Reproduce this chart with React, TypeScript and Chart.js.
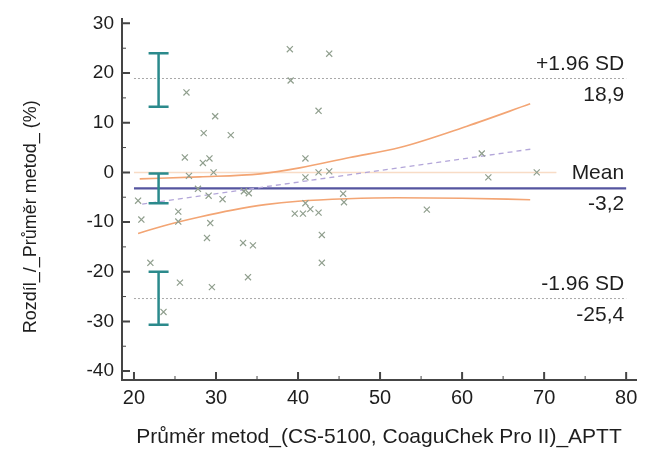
import React, { useEffect, useRef } from "react";
import { Chart, registerables } from "chart.js";

Chart.register(...registerables);

// ---- data ----
const pointX = [39.0, 43.8, 39.1, 26.4, 42.5, 29.9, 28.5, 31.8, 26.2, 29.2, 28.4, 40.9, 62.4, 26.7, 29.7, 40.9, 42.5, 43.8, 63.2, 69.1, 27.8, 29.1, 30.8, 33.4, 34.0, 45.5, 45.6, 40.9, 20.5, 20.9, 25.4, 25.4, 29.3, 39.6, 40.6, 41.5, 42.5, 55.7, 28.9, 33.3, 34.5, 42.9, 22.0, 42.9, 33.9, 25.6, 29.5, 23.6];
const pointY = [24.8, 23.9, 18.5, 16.1, 12.4, 11.3, 7.9, 7.5, 3.0, 2.8, 1.9, 2.8, 3.8, -0.7, 0.0, -1.0, 0.0, 0.2, -1.0, 0.0, -3.3, -4.7, -5.4, -3.8, -4.2, -4.3, -6.0, -6.2, -5.7, -9.5, -7.9, -9.9, -10.2, -8.3, -8.3, -7.4, -8.1, -7.5, -13.2, -14.2, -14.7, -12.6, -18.2, -18.2, -21.1, -22.2, -23.1, -28.1];

const meanDiff = -3.2;
const upperLoA = 18.9;
const lowerLoA = -25.4;
const lineXStart = 20;
const lineXEnd = 80;
const zeroLineX = [20, 71.5];

const regressionX = [21, 68.5];
const regressionY = [-6.4, 4.7];
const upperCurveX = [20.7, 28, 35.4, 40.2, 46.3, 52.4, 60.6, 68.3];
const upperCurveY = [-1.3, -0.9, -0.3, 0.9, 3.0, 5.0, 9.3, 13.8];
const lowerCurveX = [20.5, 24, 28, 32, 36, 40, 46, 52, 60, 68.3];
const lowerCurveY = [-12.3, -10.6, -9.0, -7.6, -6.5, -5.8, -5.3, -5.1, -5.2, -5.5];

const errorBarX = 23;
const ciLow = [13.2, -6.2, -30.7];
const ciHigh = [24.0, -0.2, -20.0];

const xTicks = [20, 30, 40, 50, 60, 70, 80];
const yTicks = [-40, -30, -20, -10, 0, 10, 20, 30];

const xTitle = "Průměr metod_(CS-5100, CoaguChek Pro II)_APTT";
const yTitle = "Rozdíl_/_Průměr metod_ (%)";
const labelsAbove = ["+1.96 SD", "Mean", "-1.96 SD"];
const labelsBelow = ["18,9", "-3,2", "-25,4"];
const labelValues = [upperLoA, meanDiff, lowerLoA];

const FONT = "Arial, 'Liberation Sans', sans-serif";
const AXIS = "#454545";
const TEXT = "#1e1e1e";

const pts = (xs: number[], ys: number[]) => xs.map((x, i) => ({ x, y: ys[i] }));

const overlay = {
  id: "overlay",
  afterDatasetsDraw(chart: any) {
    const { ctx } = chart;
    const xs = chart.scales.x;
    const ys = chart.scales.y;
    ctx.save();
    ctx.strokeStyle = "#2b8a8c";
    ctx.lineWidth = 2.5;
    const px = xs.getPixelForValue(errorBarX);
    ciLow.forEach((lo, i) => {
      const y1 = ys.getPixelForValue(lo);
      const y2 = ys.getPixelForValue(ciHigh[i]);
      ctx.beginPath();
      ctx.moveTo(px, y1);
      ctx.lineTo(px, y2);
      ctx.moveTo(px - 10, y1);
      ctx.lineTo(px + 10, y1);
      ctx.moveTo(px - 10, y2);
      ctx.lineTo(px + 10, y2);
      ctx.stroke();
    });
    ctx.restore();
  },
  afterDraw(chart: any) {
    const { ctx, chartArea } = chart;
    const xs = chart.scales.x;
    const ys = chart.scales.y;
    ctx.save();
    ctx.strokeStyle = AXIS;
    // major ticks (inside)
    ctx.lineWidth = 2;
    ctx.beginPath();
    yTicks.forEach((v) => {
      const p = ys.getPixelForValue(v);
      ctx.moveTo(chartArea.left, p);
      ctx.lineTo(chartArea.left + 8, p);
    });
    xTicks.forEach((v) => {
      const p = xs.getPixelForValue(v);
      ctx.moveTo(p, chartArea.bottom);
      ctx.lineTo(p, chartArea.bottom - 8);
    });
    ctx.stroke();
    // minor ticks
    ctx.lineWidth = 1;
    ctx.beginPath();
    for (let i = 0; i < yTicks.length - 1; i++) {
      const p = ys.getPixelForValue((yTicks[i] + yTicks[i + 1]) / 2);
      ctx.moveTo(chartArea.left, p);
      ctx.lineTo(chartArea.left + 4, p);
    }
    for (let i = 0; i < xTicks.length - 1; i++) {
      const p = xs.getPixelForValue((xTicks[i] + xTicks[i + 1]) / 2);
      ctx.moveTo(p, chartArea.bottom);
      ctx.lineTo(p, chartArea.bottom - 4);
    }
    ctx.stroke();
    // labels
    ctx.fillStyle = TEXT;
    ctx.font = `21px ${FONT}`;
    ctx.textAlign = "right";
    ctx.textBaseline = "alphabetic";
    const rx = xs.getPixelForValue(lineXEnd) - 2;
    labelValues.forEach((v, i) => {
      const p = ys.getPixelForValue(v);
      ctx.fillText(labelsAbove[i], rx, p - 9);
      ctx.fillText(labelsBelow[i], rx, p + 22);
    });
    // y axis title
    ctx.font = `18px ${FONT}`;
    ctx.textAlign = "center";
    ctx.textBaseline = "middle";
    ctx.translate(31, (chartArea.top + chartArea.bottom) / 2 + 17);
    ctx.rotate(-Math.PI / 2);
    ctx.fillText(yTitle, 0, 0);
    ctx.restore();
  },
};

export default function App() {
  const ref = useRef<HTMLCanvasElement>(null);
  useEffect(() => {
    const canvas = ref.current;
    if (!canvas) return;
    const line = (data: any[], color: string, width: number, dash: number[] = []) => ({
      type: "scatter" as const,
      data,
      showLine: true,
      borderColor: color,
      borderWidth: width,
      borderDash: dash,
      pointRadius: 0,
      pointHoverRadius: 0,
      fill: false,
    });
    const chart = new Chart(canvas, {
      type: "scatter",
      data: {
        datasets: [
          {
            data: pts(pointX, pointY),
            pointStyle: "crossRot",
            pointRadius: 4.3,
            borderColor: "#909f8e",
            backgroundColor: "transparent",
            borderWidth: 1.2,
            showLine: false,
          } as any,
          line(pts(regressionX, regressionY), "#b3a6d9", 1.3, [5, 4]),
          { ...line(pts(upperCurveX, upperCurveY), "#f3a574", 1.6), tension: 0.4, cubicInterpolationMode: "monotone" },
          { ...line(pts(lowerCurveX, lowerCurveY), "#f3a574", 1.6), tension: 0.4, cubicInterpolationMode: "monotone" },
          line(pts([lineXStart, lineXEnd], [meanDiff, meanDiff]), "#55559f", 2.2),
          line(pts([lineXStart, lineXEnd], [upperLoA, upperLoA]), "#a8a8a8", 1, [2, 2]),
          line(pts([lineXStart, lineXEnd], [lowerLoA, lowerLoA]), "#a8a8a8", 1, [2, 2]),
          line(pts(zeroLineX, [0, 0]), "#f8dcc6", 1.5),
        ] as any,
      },
      options: {
        animation: false,
        responsive: true,
        maintainAspectRatio: false,
        layout: { padding: { top: 17, right: 16, bottom: 0, left: 19 } },
        plugins: { legend: { display: false }, tooltip: { enabled: false } },
        scales: {
          x: {
            type: "linear",
            min: 18.54,
            max: 81.2,
            afterBuildTicks: (s: any) => {
              s.ticks = xTicks.map((v) => ({ value: v }));
            },
            afterFit: (s: any) => {
              s.height = 70;
            },
            grid: { display: false, drawTicks: false },
            border: { display: true, color: AXIS, width: 2 },
            ticks: { font: { size: 20, family: FONT }, color: TEXT, padding: 6, maxRotation: 0, autoSkip: false },
            title: { display: true, text: xTitle, font: { size: 21, family: FONT }, color: TEXT, padding: { top: 0, bottom: 0 } },
          },
          y: {
            type: "linear",
            min: -41.8,
            max: 30.8,
            afterBuildTicks: (s: any) => {
              s.ticks = yTicks.map((v) => ({ value: v }));
            },
            afterFit: (s: any) => {
              s.width = 103;
            },
            grid: { display: false, drawTicks: false },
            border: { display: true, color: AXIS, width: 2 },
            ticks: { font: { size: 19, family: FONT }, color: TEXT, padding: 8, autoSkip: false },
            title: { display: false },
          },
        },
      } as any,
      plugins: [overlay],
    });
    return () => chart.destroy();
  }, []);
  return (
    <div style={{ position: "fixed", left: 0, top: 0, width: 652, height: 450, background: "#fff" }}>
      <canvas ref={ref} />
    </div>
  );
}
